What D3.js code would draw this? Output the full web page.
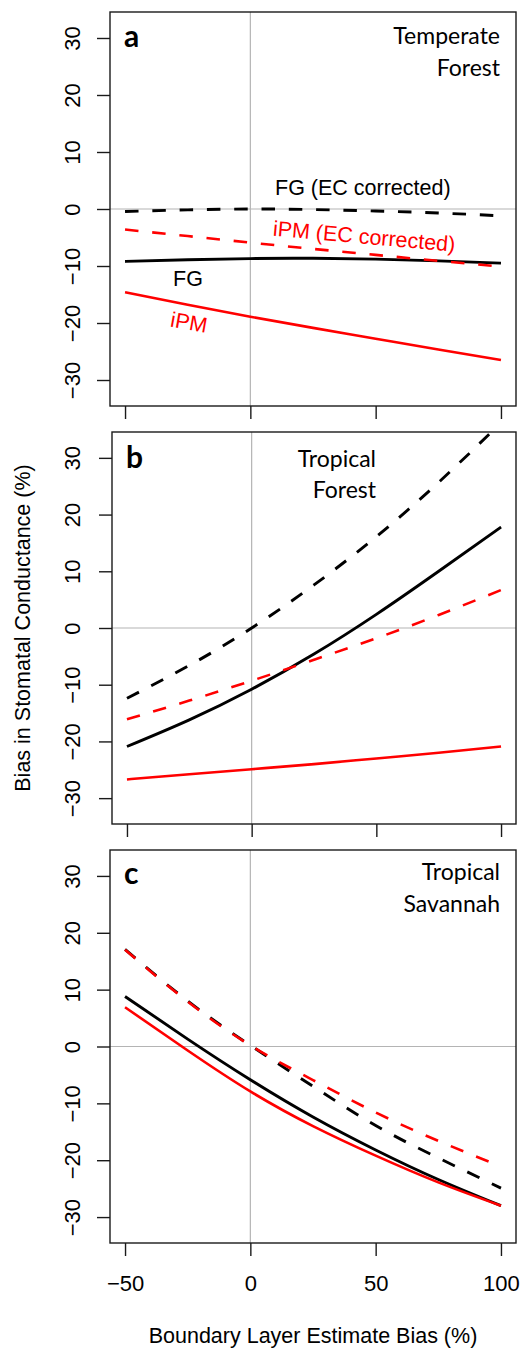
<!DOCTYPE html>
<html>
<head>
<meta charset="utf-8">
<script src="https://cdn.jsdelivr.net/npm/d3@7"></script>
<style>
  html, body { margin: 0; padding: 0; background: #fff; }
  svg { display: block; }
</style>
</head>
<body>
<svg id="chart" width="522" height="1348"></svg>
<script>
// ---------------- DATA ----------------
const xValues = [-50, -25, 0, 25, 50, 75, 100];
const xTicks = [-50, 0, 50, 100];
const yTicks = [-30, -20, -10, 0, 10, 20, 30];

// Panel a: Temperate Forest
const aFG     = [-9.2, -8.9, -8.7, -8.65, -8.8, -9.1, -9.5];
const aFGec   = [-0.45, -0.15, 0, -0.1, -0.35, -0.7, -1.2];
const aIPM    = [-14.6, -16.8, -18.9, -20.85, -22.75, -24.65, -26.5];
const aIPMec  = [-3.6, -4.75, -5.9, -7.0, -8.05, -9.1, -10.1];

// Panel b: Tropical Forest
const bFG     = [-20.9, -16.2, -10.8, -4.6, 2.4, 10.0, 17.8];
const bFGec   = [-12.4, -6.6, 0, 7.6, 16.1, 25.7, 36.2];
const bIPM    = [-26.7, -25.8, -24.9, -24.0, -23.0, -22.0, -20.9];
const bIPMec  = [-16.1, -12.8, -9.3, -5.6, -1.8, 2.3, 6.7];

// Panel c: Tropical Savannah
const cFG     = [8.8, 1.3, -5.85, -12.4, -18.2, -23.4, -28.0];
const cFGec   = [17.1, 8.0, 0.2, -7.0, -13.9, -19.6, -24.9];
const cIPM    = [6.9, -0.7, -7.9, -14.0, -19.2, -23.9, -28.0];
const cIPMec  = [17.0, 7.9, 0.2, -5.9, -11.6, -16.6, -21.1];

const panelLetters = ["a", "b", "c"];
const panelTitles = [["Temperate", "Forest"], ["Tropical", "Forest"], ["Tropical", "Savannah"]];
const xLabel = "Boundary Layer Estimate Bias (%)";
const yLabel = "Bias in Stomatal Conductance (%)";
const annoFGec = "FG (EC corrected)";
const annoIPMec = "iPM (EC corrected)";
const annoFG = "FG";
const annoIPM = "iPM";

// ---------------- LAYOUT ----------------
const numFont = "'Liberation Sans', Arial, Helvetica, sans-serif";
const titleFont = "Lato, 'Open Sans', sans-serif";
const RED = "#ff0000";
const panels = [
  { letter: panelLetters[0], title: panelTitles[0], box: [110, 516, 12, 406],  titleX: 500, titleAnchor: "end",
    series: { fg: aFG, fgec: aFGec, ipm: aIPM, ipmec: aIPMec }, titleDy: [32.3, 64], letterDy: 34.7 },
  { letter: panelLetters[1], title: panelTitles[1], box: [112, 516, 432, 824], titleX: 376, titleAnchor: "end",
    series: { fg: bFG, fgec: bFGec, ipm: bIPM, ipmec: bIPMec }, titleDy: [35.3, 66.3], letterDy: 36.3 },
  { letter: panelLetters[2], title: panelTitles[2], box: [110, 516, 850, 1243], titleX: 500, titleAnchor: "end",
    series: { fg: cFG, fgec: cFGec, ipm: cIPM, ipmec: cIPMec }, titleDy: [30, 61.7], letterDy: 34.3 }
];

const svg = d3.select("#chart");
const fmt = d => (d < 0 ? "\u2212" + Math.abs(d) : String(d));

panels.forEach((p, i) => {
  const [L, R, T, B] = p.box;
  const x = d3.scaleLinear().domain([-56, 106]).range([L, R]);
  const y = d3.scaleLinear().domain([-34.56, 34.56]).range([B, T]);
  const g = svg.append("g");

  const clipId = "clip" + i;
  svg.append("defs").append("clipPath").attr("id", clipId)
    .append("rect").attr("x", L).attr("y", T).attr("width", R - L).attr("height", B - T);

  // reference lines
  g.append("line").attr("x1", x(0)).attr("x2", x(0)).attr("y1", T).attr("y2", B)
    .attr("stroke", "#b4b4b4").attr("stroke-width", 1.2);
  g.append("line").attr("x1", L).attr("x2", R).attr("y1", y(0)).attr("y2", y(0))
    .attr("stroke", "#b4b4b4").attr("stroke-width", 1.2);

  const line = d3.line().x((d, k) => x(xValues[k])).y(d => y(d)).curve(d3.curveNatural);
  const lines = g.append("g").attr("clip-path", `url(#${clipId})`);
  const draw = (vals, color, dashed, w) => {
    lines.append("path").attr("d", line(vals)).attr("fill", "none")
      .attr("stroke", color).attr("stroke-width", w)
      .attr("stroke-dasharray", dashed ? "13.5,13.8" : null);
  };
  draw(p.series.fg, "#000", false, 2.9);
  draw(p.series.fgec, "#000", true, 2.9);
  draw(p.series.ipm, RED, false, 2.6);
  draw(p.series.ipmec, RED, true, 2.6);

  // box
  g.append("rect").attr("x", L).attr("y", T).attr("width", R - L).attr("height", B - T)
    .attr("fill", "none").attr("stroke", "#1a1a1a").attr("stroke-width", 1.4);

  // y axis
  const ya = g.append("g").attr("transform", `translate(${L},0)`)
    .call(d3.axisLeft(y).tickValues(yTicks).tickSize(13).tickFormat(fmt));
  ya.select(".domain").remove();
  ya.selectAll(".tick line").attr("stroke", "#1a1a1a").attr("stroke-width", 1.4);
  ya.selectAll(".tick text")
    .attr("transform", "rotate(-90)").attr("x", 0).attr("y", -(L - 79.5)).attr("dy", 0)
    .attr("text-anchor", "middle").attr("fill", "#000")
    .style("font-family", numFont).style("font-size", "22px");

  // x axis
  const xa = g.append("g").attr("transform", `translate(0,${B})`)
    .call(d3.axisBottom(x).tickValues(xTicks).tickSize(13).tickFormat(i === 2 ? fmt : () => ""));
  xa.select(".domain").remove();
  xa.selectAll(".tick line").attr("stroke", "#1a1a1a").attr("stroke-width", 1.4);
  xa.selectAll(".tick text").attr("y", 47.7).attr("dy", 0).attr("fill", "#000")
    .style("font-family", numFont).style("font-size", "22px");

  // panel letter
  g.append("text").attr("x", L + 14).attr("y", T + p.letterDy).text(p.letter)
    .style("font-family", titleFont).style("font-weight", "bold").style("font-size", "30px");

  // title
  p.title.forEach((t, k) => {
    g.append("text").attr("x", p.titleX).attr("y", T + p.titleDy[k]).attr("text-anchor", p.titleAnchor)
      .text(t).style("font-family", titleFont).style("font-size", "23px");
  });
});

// annotations (panel a)
const ann = svg.append("g").style("font-family", numFont).style("font-size", "21.5px");
ann.append("text").attr("x", 275).attr("y", 195).text(annoFGec).attr("fill", "#000");
ann.append("text").attr("transform", "translate(272.5,235.7) rotate(5)").text(annoIPMec).attr("fill", RED);
ann.append("text").attr("x", 173).attr("y", 285.7).text(annoFG).attr("fill", "#000");
ann.append("text").attr("transform", "translate(169.5,326.5) rotate(10)").text(annoIPM).attr("fill", RED);

// axis titles
svg.append("text").attr("x", 313).attr("y", 1343).attr("text-anchor", "middle").text(xLabel)
  .style("font-family", numFont).style("font-size", "21.5px");
svg.append("text").attr("transform", "translate(30,628) rotate(-90)").attr("text-anchor", "middle").text(yLabel)
  .style("font-family", numFont).style("font-size", "21.5px");
</script>
</body>
</html>
